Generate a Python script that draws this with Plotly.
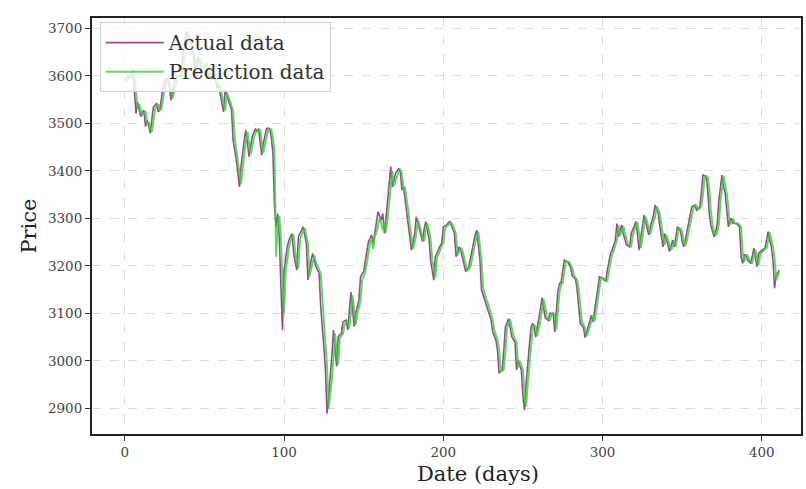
import plotly.graph_objects as go

# Daily closing prices (actual) and model output (prediction), day 0..411
actual = [
    3591, 3596, 3600, 3595, 3606, 3614, 3570, 3521, 3545, 3530,
    3514, 3522, 3528, 3493, 3507, 3495, 3479, 3508, 3535, 3538,
    3542, 3524, 3530, 3552, 3577, 3585, 3595, 3590, 3577, 3549,
    3568, 3587, 3595, 3601, 3600, 3598, 3630, 3661, 3680, 3693,
    3684, 3675, 3660, 3647, 3606, 3622, 3640, 3628, 3612, 3618,
    3622, 3626, 3610, 3598, 3600, 3603, 3598, 3590, 3574, 3580,
    3560, 3540, 3524, 3570, 3560, 3549, 3538, 3528, 3465, 3445,
    3423, 3395, 3366, 3409, 3440, 3465, 3486, 3460, 3430, 3452,
    3472, 3480, 3489, 3482, 3489, 3460, 3433, 3458, 3475, 3489,
    3490, 3489, 3470, 3437, 3324, 3282, 3310, 3261, 3160, 3065,
    3191, 3220, 3240, 3254, 3262, 3268, 3226, 3205, 3191, 3261,
    3268, 3275, 3282, 3265, 3247, 3170, 3195, 3212, 3226, 3210,
    3198, 3192, 3184, 3114, 3079, 3030, 2981, 2889, 2925, 2960,
    3010, 3065, 3016, 2988, 3051, 3055, 3058, 3082, 3084, 3086,
    3065, 3105, 3145, 3110, 3072, 3100, 3114, 3128, 3177, 3182,
    3188, 3210, 3233, 3251, 3258, 3265, 3247, 3268, 3289, 3314,
    3305, 3296, 3310, 3268, 3300, 3338, 3375, 3409, 3366, 3380,
    3395, 3400, 3405, 3398, 3360, 3366, 3340, 3317, 3282, 3260,
    3233, 3250, 3268, 3303, 3290, 3275, 3260, 3251, 3279, 3293,
    3275, 3258, 3212, 3190, 3170, 3219, 3228, 3237, 3242, 3247,
    3282, 3284, 3286, 3290, 3293, 3286, 3278, 3268, 3219, 3230,
    3240, 3233, 3218, 3205, 3188, 3193, 3198, 3215, 3233, 3254,
    3265, 3275, 3245, 3212, 3149, 3138, 3128, 3120, 3110, 3098,
    3086, 3061, 3052, 3044, 3023, 2974, 2978, 2981, 3023, 3072,
    3080, 3089, 3070, 3051, 3045, 3040, 2981, 3002, 2990, 2981,
    2924, 2896, 2953, 2995, 3030, 3070, 3079, 3072, 3050, 3068,
    3086, 3110, 3133, 3114, 3090, 3088, 3085, 3100, 3100, 3100,
    3061, 3110, 3149, 3163, 3165, 3190, 3212, 3210, 3209, 3203,
    3196, 3179, 3175, 3172, 3150, 3120, 3079, 3075, 3070, 3049,
    3060, 3072, 3085, 3096, 3082, 3110, 3130, 3152, 3177, 3176,
    3174, 3170, 3167, 3191, 3210, 3226, 3233, 3243, 3254, 3289,
    3261, 3275, 3286, 3268, 3255, 3244, 3242, 3240, 3268, 3278,
    3286, 3293, 3263, 3233, 3260, 3282, 3307, 3293, 3280, 3265,
    3282, 3295, 3307, 3328, 3318, 3310, 3282, 3260, 3240, 3268,
    3258, 3245, 3230, 3240, 3254, 3240, 3262, 3282, 3278, 3272,
    3251, 3240, 3255, 3272, 3288, 3303, 3324, 3326, 3328, 3317,
    3320, 3324, 3352, 3391, 3390, 3388, 3360, 3310, 3285, 3272,
    3261, 3270, 3289, 3338, 3365, 3391, 3366, 3352, 3317, 3282,
    3295, 3300, 3289, 3289, 3289, 3286, 3282, 3219, 3205, 3223,
    3223, 3212, 3208, 3205, 3220, 3237, 3218, 3198, 3226, 3230,
    3233, 3235, 3237, 3255, 3272, 3254, 3240, 3212, 3153, 3181,
    3186, 3191,
]

prediction = [
    3588, 3590, 3595, 3598, 3597, 3605, 3610, 3568, 3530, 3540,
    3528, 3516, 3522, 3524, 3498, 3503, 3490, 3482, 3506, 3530,
    3536, 3540, 3527, 3530, 3550, 3572, 3583, 3592, 3589, 3574,
    3552, 3566, 3584, 3594, 3599, 3599, 3598, 3627, 3656, 3676,
    3688, 3682, 3672, 3658, 3644, 3610, 3622, 3637, 3626, 3614,
    3618, 3622, 3624, 3610, 3600, 3601, 3602, 3597, 3590, 3576,
    3578, 3560, 3541, 3527, 3565, 3558, 3548, 3537, 3526, 3470,
    3448, 3425, 3398, 3372, 3405, 3436, 3462, 3482, 3460, 3434,
    3450, 3469, 3478, 3487, 3482, 3487, 3461, 3438, 3455, 3472,
    3486, 3488, 3487, 3469, 3440, 3219, 3285, 3305, 3262, 3165,
    3100, 3188, 3218, 3238, 3252, 3260, 3265, 3228, 3206, 3194,
    3255, 3266, 3273, 3280, 3264, 3246, 3178, 3195, 3210, 3222,
    3208, 3198, 3192, 3183, 3120, 3084, 3035, 2986, 2900, 2928,
    2960, 3006, 3058, 3015, 2992, 3048, 3053, 3057, 3078, 3082,
    3084, 3068, 3102, 3138, 3108, 3076, 3098, 3112, 3126, 3170,
    3180, 3186, 3207, 3229, 3248, 3256, 3235, 3262, 3270, 3286,
    3300, 3290, 3276, 3290, 3270, 3300, 3335, 3370, 3400, 3368,
    3379, 3392, 3398, 3402, 3395, 3362, 3364, 3340, 3318, 3284,
    3262, 3236, 3250, 3266, 3298, 3288, 3274, 3260, 3252, 3276,
    3290, 3274, 3257, 3214, 3192, 3174, 3216, 3226, 3235, 3241,
    3247, 3278, 3283, 3285, 3289, 3291, 3285, 3277, 3266, 3222,
    3229, 3238, 3232, 3218, 3206, 3190, 3193, 3198, 3214, 3231,
    3251, 3263, 3272, 3245, 3212, 3153, 3140, 3130, 3121, 3111,
    3099, 3086, 3064, 3054, 3045, 3025, 2980, 2978, 2982, 3020,
    3068, 3079, 3087, 3070, 3053, 3046, 3040, 2986, 3000, 2990,
    2982, 2930, 2903, 2950, 2992, 3028, 3066, 3077, 3071, 3052,
    3066, 3084, 3108, 3130, 3113, 3092, 3088, 3086, 3098, 3100,
    3099, 3066, 3108, 3146, 3160, 3164, 3188, 3209, 3209, 3208,
    3202, 3195, 3180, 3175, 3171, 3152, 3122, 3083, 3076, 3070,
    3052, 3060, 3071, 3084, 3094, 3083, 3108, 3128, 3150, 3174,
    3175, 3173, 3169, 3168, 3189, 3208, 3224, 3232, 3242, 3253,
    3285, 3263, 3274, 3284, 3268, 3256, 3245, 3242, 3241, 3265,
    3276, 3285, 3291, 3265, 3238, 3259, 3280, 3303, 3292, 3280,
    3267, 3280, 3293, 3305, 3325, 3318, 3310, 3284, 3262, 3244,
    3265, 3257, 3246, 3233, 3240, 3252, 3241, 3260, 3280, 3278,
    3271, 3253, 3242, 3254, 3270, 3287, 3301, 3321, 3326, 3327,
    3318, 3320, 3324, 3349, 3386, 3389, 3387, 3362, 3314, 3287,
    3273, 3263, 3270, 3287, 3334, 3362, 3388, 3368, 3352, 3320,
    3286, 3294, 3299, 3290, 3289, 3289, 3286, 3281, 3225, 3208,
    3220, 3222, 3213, 3208, 3205, 3218, 3234, 3219, 3202, 3224,
    3229, 3232, 3235, 3237, 3253, 3270, 3255, 3241, 3215, 3170,
    3178, 3186,
]

days = list(range(len(actual)))

x_ticks = [0, 100, 200, 300, 400]
y_ticks = [2900, 3000, 3100, 3200, 3300, 3400, 3500, 3600, 3700]

FONT = "DejaVu Serif"

fig = go.Figure()
fig.add_trace(go.Scatter(
    x=days, y=actual, mode="lines", name="Actual data",
    line=dict(color="rgba(128,30,120,0.8)", width=1.6),
))
fig.add_trace(go.Scatter(
    x=days, y=prediction, mode="lines", name="Prediction data",
    line=dict(color="rgba(60,205,60,0.8)", width=2.0),
))

axis_common = dict(
    showline=True, linecolor="#222", linewidth=2, mirror=True,
    ticks="outside", ticklen=5, tickwidth=1.2, tickcolor="#333",
    showgrid=True, gridcolor="#dcdcdc", griddash="dash", gridwidth=1,
    zeroline=False,
    tickfont=dict(family=FONT, size=13.5, color="#444"),
)

fig.update_xaxes(range=[-20.6, 424.6], tickvals=x_ticks, **axis_common)
fig.update_yaxes(
    range=[2846, 3721.7], tickvals=y_ticks,
    title=dict(text="Price", font=dict(family=FONT, size=21, color="#222"), standoff=6),
    **axis_common,
)

# x-axis title placed as a paper annotation
fig.add_annotation(
    text="Date (days)", xref="paper", yref="paper",
    x=0.545, y=-0.095, xanchor="center", yanchor="middle", showarrow=False,
    font=dict(family=FONT, size=21, color="#222"),
)

fig.update_layout(
    width=806, height=489,
    margin=dict(l=92, r=3, t=18, b=55),
    plot_bgcolor="white", paper_bgcolor="white",
    legend=dict(
        x=0.011, y=0.99, xanchor="left", yanchor="top",
        bgcolor="rgba(255,255,255,0.8)", bordercolor="#d0d0d0", borderwidth=1,
        font=dict(family=FONT, size=20, color="#333"),
        itemwidth=58,
    ),
)

fig.write_html("out.html")
